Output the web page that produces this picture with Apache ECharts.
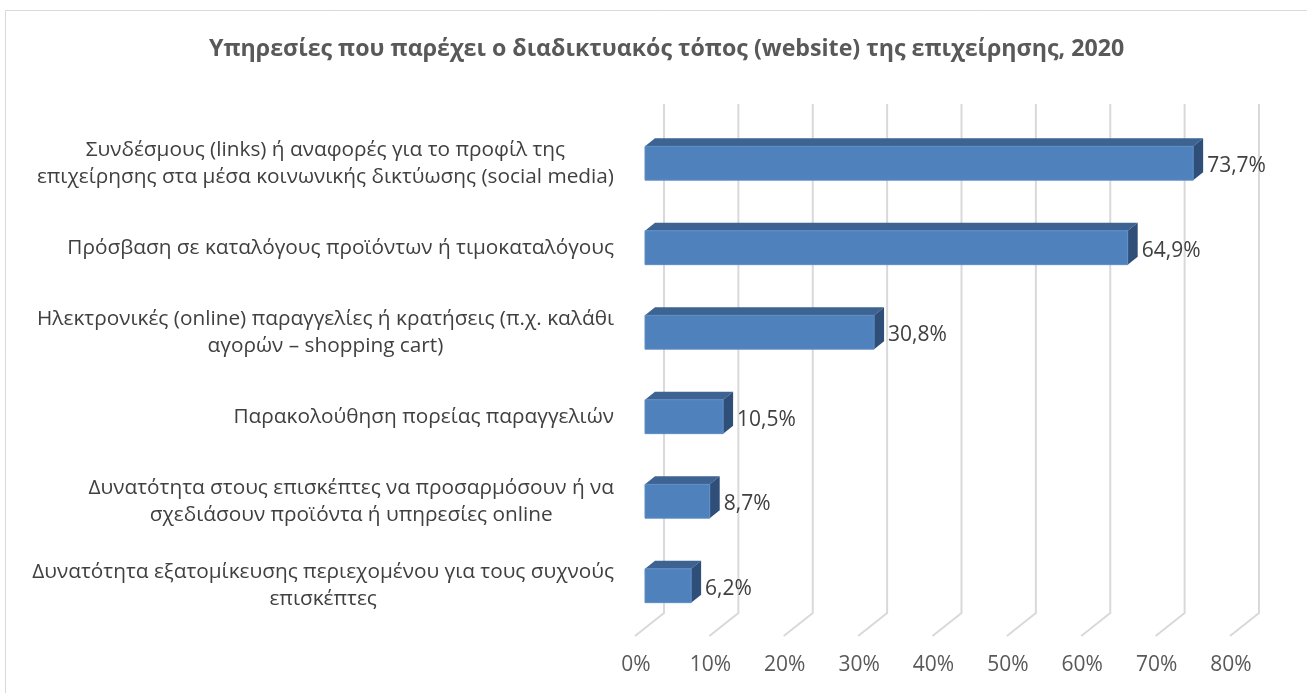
<!DOCTYPE html>
<html>
<head>
<meta charset="utf-8">
<script src="https://cdn.jsdelivr.net/npm/echarts@6/dist/echarts.min.js"></script>
<style>
  html, body { margin: 0; padding: 0; background: #fff; }
  #chart { width: 1307px; height: 693px; }
</style>
</head>
<body>
<div id="chart"></div>
<script>
// data
const categories = [
  'Συνδέσμους (links) ή αναφορές για το προφίλ της\nεπιχείρησης στα μέσα κοινωνικής δικτύωσης (social media)',
  'Πρόσβαση σε καταλόγους προϊόντων ή τιμοκαταλόγους',
  'Ηλεκτρονικές (online) παραγγελίες ή κρατήσεις (π.χ. καλάθι\nαγορών – shopping cart)',
  'Παρακολούθηση πορείας παραγγελιών',
  'Δυνατότητα στους επισκέπτες να προσαρμόσουν ή να\nσχεδιάσουν προϊόντα ή υπηρεσίες online',
  'Δυνατότητα εξατομίκευσης περιεχομένου για τους συχνούς\nεπισκέπτες'
];
const values = [73.7, 64.9, 30.8, 10.5, 8.7, 6.2];
const ticks = [0, 10, 20, 30, 40, 50, 60, 70, 80];

const FONT = '"Open Sans", "Noto Sans", sans-serif';
const fmt = v => v.toFixed(1).replace('.', ',') + '%';

// 3d depth of the bars
const DX = 10, DY = 8;

const chart = echarts.init(document.getElementById('chart'));
chart.setOption({
  animation: false,
  title: {
    text: 'Υπηρεσίες που παρέχει ο διαδικτυακός τόπος (website) της επιχείρησης, 2020',
    left: 204,
    top: 33,
    textStyle: { fontFamily: FONT, fontSize: 23.2, fontWeight: 'bold', color: '#595959' }
  },
  graphic: [{
    type: 'rect',
    shape: { x: 5.5, y: 10.5, width: 1400, height: 800 },
    style: { fill: 'none', stroke: '#D9D9D9', lineWidth: 1 },
    silent: true
  }],
  grid: { left: 645, right: 67, top: 121, bottom: 65 },
  xAxis: {
    type: 'value',
    min: 0, max: 80, interval: 10,
    axisLine: { show: false },
    axisTick: { show: false },
    splitLine: { show: false },
    axisLabel: {
      formatter: '{value}%',
      margin: 27,
      padding: [0, 18, 0, 0],
      fontFamily: FONT, fontSize: 21, color: '#595959'
    }
  },
  yAxis: {
    type: 'category',
    inverse: true,
    data: categories,
    axisLine: { show: false },
    axisTick: { show: false },
    axisLabel: {
      margin: 31,
      formatter: v => v.split('\n').map(s => '{c|' + s + '}').join('\n'),
      rich: { c: { align: 'center', fontFamily: FONT, fontSize: 20.8, lineHeight: 27, color: '#404040' } }
    }
  },
  series: [
    {
      // perspective gridlines: back wall + floor
      type: 'custom',
      z: 1,
      silent: true,
      encode: { x: 0, y: 1 },
      data: ticks.map(t => [t, 0]),
      renderItem(params, api) {
        const cs = params.coordSys;
        const x = api.coord([api.value(0), 0])[0];
        const yTop = cs.y - 17;
        const yFloor = cs.y + cs.height - 15;
        return {
          type: 'polyline',
          shape: { points: [[x + 19, yTop], [x + 19, yFloor], [x - 10, yFloor + 23]] },
          style: { stroke: '#D9D9D9', lineWidth: 2, fill: 'none' }
        };
      }
    },
    {
      type: 'custom',
      z: 3,
      encode: { x: 0, y: 1 },
      data: values.map((v, i) => [v, i]),
      renderItem(params, api) {
        const v = api.value(0);
        const c = api.value(1);
        const p0 = api.coord([0, c]);
        const p1 = api.coord([v, c]);
        const h = api.size([0, 1])[1] * 0.4;
        const x0 = p0[0], x1 = p1[0];
        const yT = p0[1] - h / 2, yB = p0[1] + h / 2;
        return {
          type: 'group',
          children: [
            { type: 'polygon', shape: { points: [[x0, yT], [x0 + DX, yT - DY], [x1 + DX, yT - DY], [x1, yT]] },
              style: { fill: '#3C6391' } },
            { type: 'polygon', shape: { points: [[x1, yT], [x1 + DX, yT - DY], [x1 + DX, yB - DY], [x1, yB]] },
              style: { fill: '#2F4E78' } },
            { type: 'rect', shape: { x: x0, y: yT, width: x1 - x0, height: h },
              style: { fill: '#4F81BD', stroke: '#5E8DC6', lineWidth: 1 } },
            { type: 'text', x: x1 + DX + 4, y: p0[1] + 3,
              style: { text: fmt(v), fill: '#404040', font: '21px ' + FONT, verticalAlign: 'middle' } }
          ]
        };
      }
    }
  ]
});
</script>
</body>
</html>
